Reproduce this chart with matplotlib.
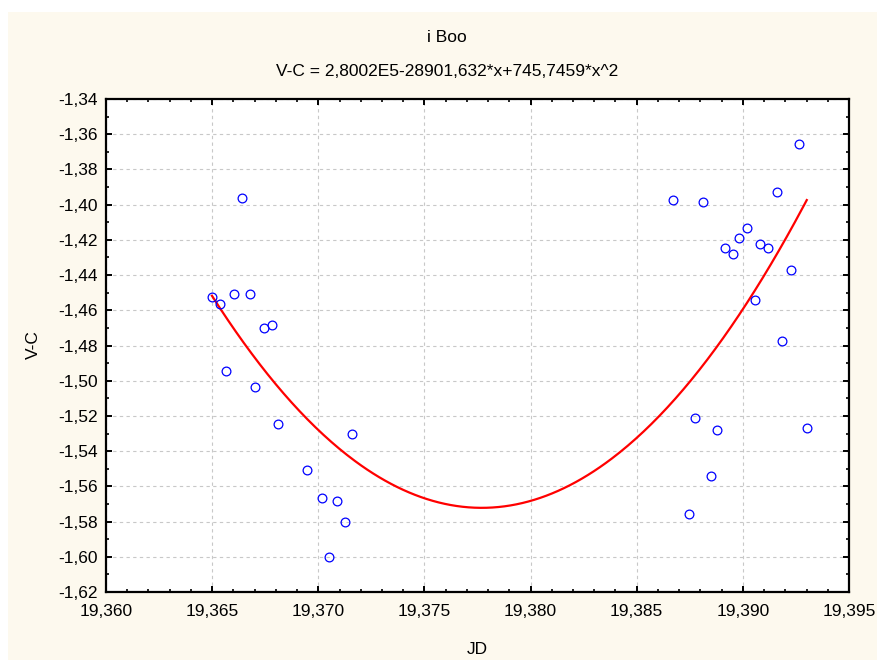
import matplotlib
matplotlib.use("Agg")
import matplotlib.pyplot as plt
import numpy as np
from matplotlib.patches import Rectangle
from matplotlib.ticker import MultipleLocator, FixedLocator, FixedFormatter

plt.rcParams['font.family'] = ['Liberation Sans', 'DejaVu Sans']

# ---- data ----
jd = [19.36499, 19.36537, 19.36639, 19.36602, 19.36677, 19.36565, 19.36744,
      19.36781, 19.36702, 19.36809, 19.36948, 19.37016, 19.37090, 19.37127,
      19.37052, 19.37157,
      19.38669, 19.38811, 19.39263, 19.39159, 19.39018, 19.38980, 19.38916,
      19.38952, 19.39082, 19.39120, 19.39225, 19.39056, 19.39184, 19.38775,
      19.38879, 19.39301, 19.38848, 19.38746]
vc = [-1.4526, -1.4563, -1.3962, -1.4506, -1.4506, -1.4945, -1.4699,
      -1.4685, -1.5036, -1.5244, -1.5505, -1.5665, -1.5685, -1.5801,
      -1.6003, -1.5301,
      -1.3974, -1.3983, -1.3656, -1.3927, -1.4131, -1.4188, -1.4245,
      -1.4280, -1.4224, -1.4245, -1.4370, -1.4542, -1.4775, -1.5210,
      -1.5278, -1.5267, -1.5540, -1.5755]

# quadratic fit: curvature from the equation, vertex
quad_a = 745.7459
vertex_x = 19.3777
vertex_y = -1.5722

title = "i Boo"
subtitle = "V-C = 2,8002E5-28901,632*x+745,7459*x^2"
xlabel = "JD"
ylabel = "V-C"

x_ticks = [19.360, 19.365, 19.370, 19.375, 19.380, 19.385, 19.390, 19.395]
x_ticklabels = ["19,360", "19,365", "19,370", "19,375", "19,380", "19,385", "19,390", "19,395"]
y_ticks = [-1.62, -1.60, -1.58, -1.56, -1.54, -1.52, -1.50, -1.48, -1.46, -1.44,
           -1.42, -1.40, -1.38, -1.36, -1.34]
y_ticklabels = ["-1,62", "-1,60", "-1,58", "-1,56", "-1,54", "-1,52", "-1,50", "-1,48",
                "-1,46", "-1,44", "-1,42", "-1,40", "-1,38", "-1,36", "-1,34"]

W, H = 877, 665
fig = plt.figure(figsize=(W / 100, H / 100), dpi=100)
fig.patch.set_facecolor('white')
fig.patches.append(Rectangle((8 / W, 1 - 660 / H), 1 - 8 / W, (660 - 12) / H,
                             transform=fig.transFigure, facecolor='#FDF9EE',
                             edgecolor='none', zorder=-10))

ax = fig.add_axes([106 / W, 1 - 592 / H, (849 - 106) / W, (592 - 99) / H])
ax.set_facecolor('white')

xc = np.linspace(min(jd), max(jd), 300)
yc = quad_a * (xc - vertex_x) ** 2 + vertex_y
ax.plot(xc, yc, color='#FF0000', lw=1.6, zorder=3)
ax.plot(jd, vc, linestyle='none', marker='o', markersize=6.3, markerfacecolor='none',
        markeredgecolor='#0000FF', markeredgewidth=0.9, zorder=4)

ax.set_xlim(19.360, 19.395)
ax.set_ylim(-1.62, -1.34)
ax.xaxis.set_major_locator(FixedLocator(x_ticks))
ax.xaxis.set_major_formatter(FixedFormatter(x_ticklabels))
ax.yaxis.set_major_locator(FixedLocator(y_ticks))
ax.yaxis.set_major_formatter(FixedFormatter(y_ticklabels))
ax.xaxis.set_minor_locator(MultipleLocator(0.001))
ax.yaxis.set_minor_locator(MultipleLocator(0.01))

ax.grid(True, which='major', color='#C8C8C8', linestyle=(0, (3, 3)), linewidth=0.8, zorder=0)
ax.set_axisbelow(True)
for s in ax.spines.values():
    s.set_linewidth(1.6)
    s.set_color('black')

ax.tick_params(which='both', direction='in', top=True, right=True, colors='black',
               labelsize=12.5)
ax.tick_params(which='major', length=4.5, width=1.4)
ax.tick_params(which='minor', length=2.5, width=1.2)
ax.tick_params(axis='x', which='major', pad=9)
ax.tick_params(axis='y', which='major', pad=6)

fig.text(447 / W, 1 - 38 / H, title, ha='center', va='center', fontsize=12.5)
fig.text(447 / W, 1 - 72 / H, subtitle, ha='center', va='center', fontsize=12.5)
fig.text(477 / W, 1 - 650 / H, xlabel, ha='center', va='center', fontsize=12.5)
fig.text(33 / W, 1 - 345 / H, ylabel, ha='center', va='center', rotation=90, fontsize=12.5)

fig.savefig('out.png', dpi=100, facecolor=fig.get_facecolor())
